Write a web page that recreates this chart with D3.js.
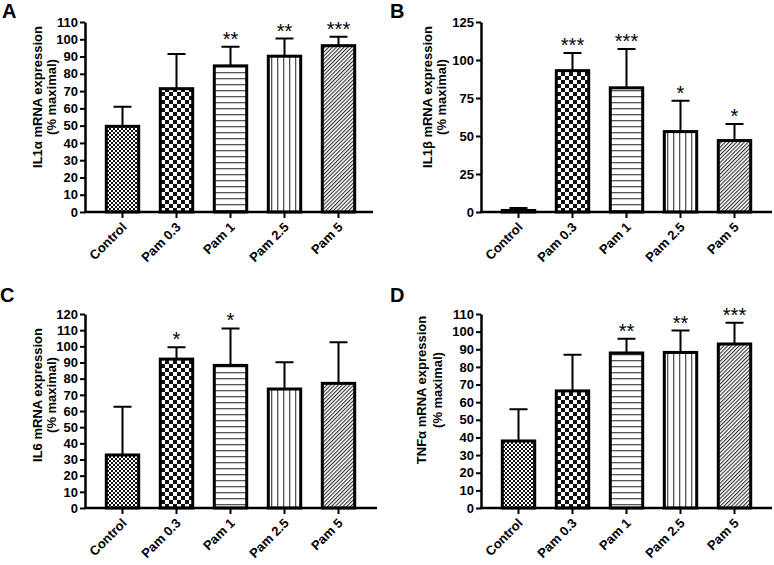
<!DOCTYPE html>
<html>
<head>
<meta charset="utf-8">
<script src="https://cdn.jsdelivr.net/npm/d3@7"></script>
<style>
  body { margin: 0; background: #fff; }
  text { font-family: "Liberation Sans", Arial, sans-serif; }
</style>
</head>
<body>
<div id="chart"></div>
<script>
// data
const categories = ["Control", "Pam 0.3", "Pam 1", "Pam 2.5", "Pam 5"];

const il1aMean = [49.6, 71.4, 84.6, 90.2, 96.3];
const il1aSd   = [11.4, 20.1, 11.0, 10.2, 5.1];
const il1aSig  = ["", "", "**", "**", "***"];

const il1bMean = [1.0, 93.0, 81.7, 52.9, 47.0];
const il1bSd   = [1.6, 11.6, 25.6, 20.3, 10.9];
const il1bSig  = ["", "***", "***", "*", "*"];

const il6Mean = [32.8, 92.1, 88.2, 73.6, 77.1];
const il6Sd   = [29.8, 7.3, 22.9, 16.5, 25.4];
const il6Sig  = ["", "*", "*", "", ""];

const tnfMean = [38.0, 66.4, 87.9, 88.2, 93.0];
const tnfSd   = [18.0, 20.5, 8.1, 12.4, 12.0];
const tnfSig  = ["", "", "**", "**", "***"];

const W = 774, H = 565;
const FONT = "'Liberation Sans', Arial, sans-serif";
const fills = ["url(#pFine)", "url(#pCoarse)", "url(#pHoriz)", "url(#pVert)", "url(#pDiag)"];

const panels = [
  { letter: "A", title: ["IL1\u03b1 mRNA expression", "(% maximal)"], mean: il1aMean, sd: il1aSd, sig: il1aSig,
    max: 110, step: 10, ax: 85, y0: 212, yTop: 22, xEnd: 373, tx: [42, 56], ty: 97, lx: 2, ly: 18 },
  { letter: "B", title: ["IL1\u03b2 mRNA expression", "(% maximal)"], mean: il1bMean, sd: il1bSd, sig: il1bSig,
    max: 125, step: 25, ax: 481, y0: 212, yTop: 22, xEnd: 772, tx: [432, 446], ty: 97, lx: 390, ly: 18 },
  { letter: "C", title: ["IL6 mRNA expression", "(% maximal)"], mean: il6Mean, sd: il6Sd, sig: il6Sig,
    max: 120, step: 10, ax: 85, y0: 508, yTop: 314, xEnd: 377, tx: [42, 56], ty: 395, lx: 0, ly: 302 },
  { letter: "D", title: ["TNF\u03b1 mRNA expression", "(% maximal)"], mean: tnfMean, sd: tnfSd, sig: tnfSig,
    max: 110, step: 10, ax: 481, y0: 508, yTop: 314, xEnd: 772, tx: [426, 442], ty: 390, lx: 390, ly: 302 }
];

const svg = d3.select("#chart").append("svg").attr("width", W).attr("height", H);

// hatch / checker patterns
const defs = svg.append("defs");
function checker(id, s) {
  const p = defs.append("pattern").attr("id", id).attr("patternUnits", "userSpaceOnUse")
    .attr("width", 2 * s).attr("height", 2 * s);
  p.append("rect").attr("width", 2 * s).attr("height", 2 * s).attr("fill", "#fff");
  p.append("rect").attr("width", s).attr("height", s).attr("fill", "#111");
  p.append("rect").attr("x", s).attr("y", s).attr("width", s).attr("height", s).attr("fill", "#111");
}
checker("pFine", 2);
checker("pCoarse", 4);

function lines(id, size, rot, lw, col) {
  const p = defs.append("pattern").attr("id", id).attr("patternUnits", "userSpaceOnUse")
    .attr("width", size).attr("height", size);
  if (rot) p.attr("patternTransform", `rotate(${rot})`);
  p.append("rect").attr("width", size).attr("height", size).attr("fill", "#fff");
  p.append("rect").attr("width", lw).attr("height", size).attr("fill", col);
}
lines("pVert", 6, 0, 1.3, "#555");
lines("pHoriz", 6, 90, 1.3, "#555");
lines("pDiag", 2.7, 45, 1.1, "#333");

panels.forEach(drawPanel);

function drawPanel(p) {
  const g = svg.append("g").attr("transform", `translate(${p.ax},0)`);
  const len = p.xEnd - p.ax;

  const x = d3.scaleBand().domain(categories).range([10.5, 280.5]).paddingInner(0.4).paddingOuter(0.2);
  const y = d3.scaleLinear().domain([0, p.max]).range([p.y0, p.yTop]);
  const rows = categories.map((c, i) => ({ c, i, v: p.mean[i], sd: p.sd[i], sig: p.sig[i] }));

  // bars
  g.selectAll(".bar").data(rows).join("rect")
    .attr("class", "bar")
    .attr("x", d => x(d.c))
    .attr("y", d => y(d.v))
    .attr("width", x.bandwidth())
    .attr("height", d => y(0) - y(d.v))
    .attr("fill", d => fills[d.i])
    .attr("stroke", "#000")
    .attr("stroke-width", 3);

  // error bars (upper only)
  const cx = d => x(d.c) + x.bandwidth() / 2;
  g.selectAll(".err").data(rows).join("path")
    .attr("class", "err")
    .attr("d", d => {
      const yt = y(d.v + d.sd);
      return `M${cx(d)},${y(d.v)}V${yt}M${cx(d) - 9},${yt}H${cx(d) + 9}`;
    })
    .attr("fill", "none").attr("stroke", "#000").attr("stroke-width", 2);

  // significance stars
  g.selectAll(".sig").data(rows.filter(d => d.sig)).join("text")
    .attr("class", "sig")
    .attr("x", cx)
    .attr("y", d => y(d.v + d.sd) - 1)
    .attr("text-anchor", "middle")
    .style("font-size", "20px")
    .text(d => d.sig);

  // y axis
  const ya = g.append("g")
    .call(d3.axisLeft(y).tickValues(d3.range(0, p.max + 0.1, p.step)).tickSize(5).tickSizeOuter(0).tickPadding(2));
  ya.select(".domain").attr("stroke-width", 2.5);
  ya.selectAll(".tick line").attr("stroke-width", 2);
  ya.selectAll(".tick text").style("font-family", FONT).style("font-size", "13px").style("font-weight", "bold").attr("fill", "#000");

  // x axis
  const xa = g.append("g").attr("transform", `translate(0,${p.y0})`)
    .call(d3.axisBottom(x).tickSize(6).tickSizeOuter(0));
  xa.select(".domain").remove();
  xa.append("line").attr("x1", -1).attr("x2", len).attr("stroke", "#000").attr("stroke-width", 2.5);
  xa.selectAll(".tick line").attr("stroke-width", 2);
  xa.selectAll(".tick text")
    .attr("y", 0).attr("dy", 0)
    .attr("transform", "translate(5,16) rotate(-45)")
    .attr("text-anchor", "end")
    .attr("fill", "#000")
    .style("font-family", FONT).style("font-size", "13px").style("font-weight", "bold");

  // axis title (two lines)
  p.title.forEach((t, k) => {
    svg.append("text")
      .attr("transform", `translate(${p.tx[k]},${p.ty}) rotate(-90)`)
      .attr("text-anchor", "middle")
      .style("font-size", "13px").style("font-weight", "bold")
      .text(t);
  });

  // panel letter
  svg.append("text").attr("x", p.lx).attr("y", p.ly)
    .style("font-size", "20px").style("font-weight", "bold")
    .text(p.letter);
}
</script>
</body>
</html>
